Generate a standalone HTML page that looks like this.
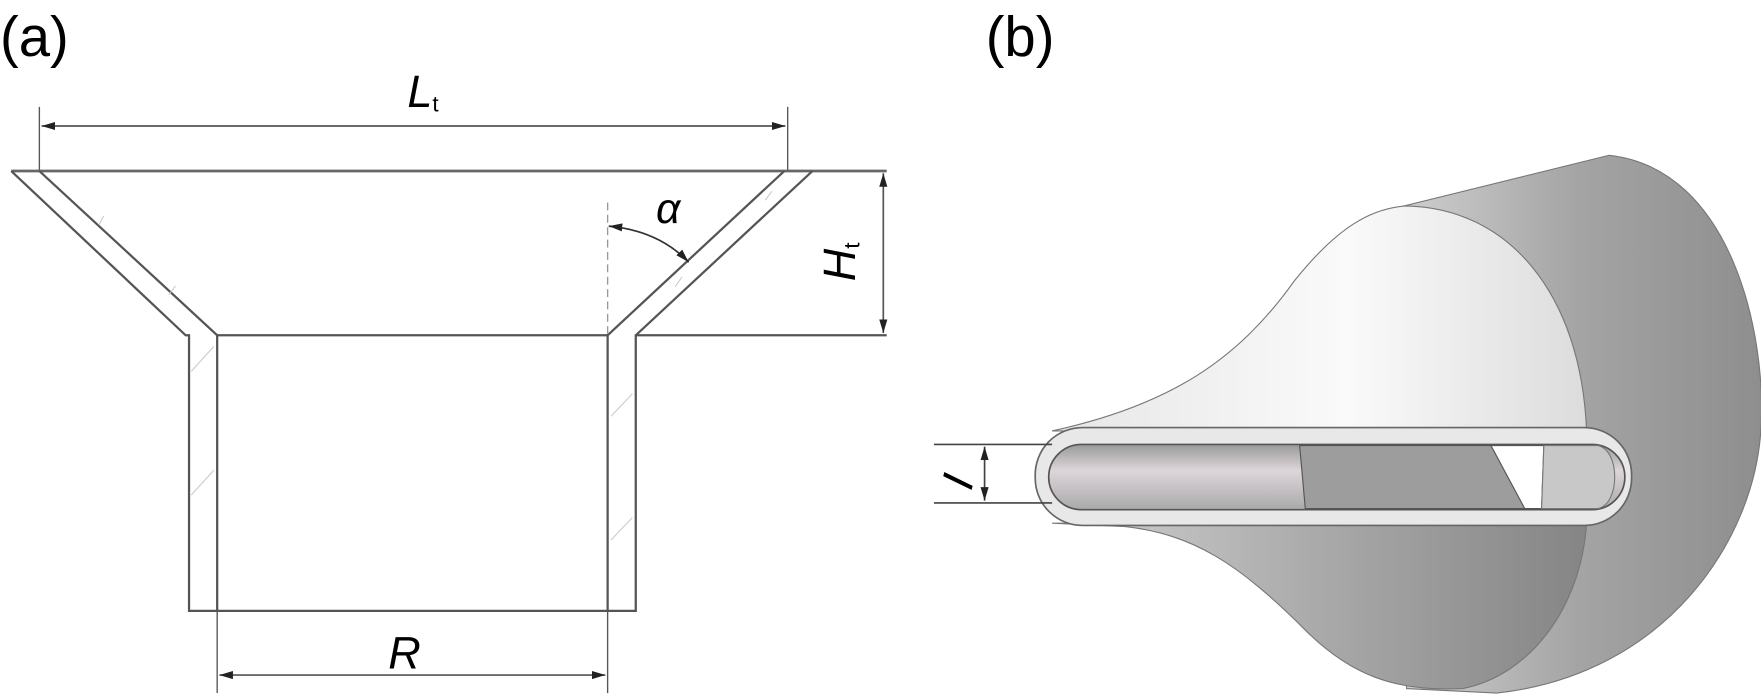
<!DOCTYPE html>
<html><head><style>html,body{margin:0;padding:0;background:#fff;}svg{display:block}</style></head>
<body>
<svg width="1761" height="697" viewBox="0 0 1565 619.5" preserveAspectRatio="none" xmlns="http://www.w3.org/2000/svg" font-family="Liberation Sans, sans-serif">
<defs>
<linearGradient id="cyl" x1="0" y1="0" x2="1" y2="0">
<stop offset="0" stop-color="#d0d0d0"/><stop offset="0.5" stop-color="#a4a4a4"/><stop offset="1" stop-color="#8e8e8e"/></linearGradient>
<linearGradient id="bellT" x1="0" y1="0" x2="1" y2="0">
<stop offset="0" stop-color="#e6e6e6"/><stop offset="0.55" stop-color="#fafafa"/><stop offset="1" stop-color="#dcdcdc"/></linearGradient>
<linearGradient id="bellB" x1="0" y1="0" x2="1" y2="0">
<stop offset="0" stop-color="#d0d0d0"/><stop offset="0.6" stop-color="#a2a2a2"/><stop offset="1" stop-color="#858585"/></linearGradient>
<linearGradient id="slotIn" x1="0" y1="0" x2="0" y2="1">
<stop offset="0" stop-color="#9a9a9a"/><stop offset="0.4" stop-color="#ddd5da"/><stop offset="1" stop-color="#aaaaaa"/></linearGradient>
<marker id="ar" viewBox="0 0 10 10" refX="10" refY="5" markerWidth="8" markerHeight="8" orient="auto-start-reverse"><path d="M0,2 L10,5 L0,8z" fill="#222"/></marker>
</defs>

<text x="0" y="50" font-size="50">(a)</text>
<text x="876" y="50" font-size="50">(b)</text>

<g stroke="#555" stroke-width="2" fill="none">
<line x1="35" y1="95" x2="35" y2="152" stroke-width="1.2"/>
<line x1="700" y1="95" x2="700" y2="152" stroke-width="1.2"/>
<line x1="37" y1="112" x2="698" y2="112" stroke-width="1.5" marker-start="url(#ar)" marker-end="url(#ar)"/>
<line x1="10" y1="152" x2="788" y2="152" stroke="#666" stroke-width="2.5"/>
<polyline points="10,152 165,298 168,298 168,543 565,543 565,298 722,152"/>
<polyline points="35,152 193,298 193,543"/>
<polyline points="697,152 540,298 540,543"/>
<line x1="193" y1="298" x2="540" y2="298"/>
<line x1="565" y1="298" x2="788" y2="298"/>
<line x1="785" y1="154" x2="785" y2="296" stroke-width="1.5" marker-start="url(#ar)" marker-end="url(#ar)"/>
<line x1="540" y1="180" x2="540" y2="298" stroke="#999" stroke-width="1.2" stroke-dasharray="7,4"/>
<path d="M541,201 Q585,205 612,233" stroke="#333" stroke-width="1.5" marker-start="url(#ar)" marker-end="url(#ar)"/>
<line x1="193" y1="543" x2="193" y2="616" stroke-width="1.2"/>
<line x1="540" y1="543" x2="540" y2="616" stroke-width="1.2"/>
<line x1="195" y1="600" x2="538" y2="600" stroke-width="1.5" marker-start="url(#ar)" marker-end="url(#ar)"/>
<g stroke="#ccc" stroke-width="1">
<line x1="88" y1="200" x2="92" y2="192"/><line x1="150" y1="262" x2="156" y2="254"/>
<line x1="170" y1="330" x2="190" y2="308"/><line x1="170" y1="440" x2="190" y2="418"/>
<line x1="543" y1="370" x2="562" y2="350"/><line x1="543" y1="480" x2="562" y2="460"/>
<line x1="600" y1="255" x2="606" y2="246"/><line x1="680" y1="178" x2="686" y2="170"/>
</g>
</g>
<text x="362" y="95" font-size="40" font-style="italic">L<tspan font-size="20" font-style="normal" dy="4">t</tspan></text>
<text x="583" y="198" font-size="38" font-style="italic">α</text>
<text x="345" y="594" font-size="40" font-style="italic">R</text>
<g transform="translate(760,250) rotate(-90)"><text x="0" y="0" font-size="40" font-style="italic">H<tspan font-size="20" font-style="normal" dy="4">t</tspan></text></g>

<path d="M1240,185 L1430,138 C1540,150 1570,300 1565,380 C1560,480 1480,600 1330,616 L1250,612 Z" fill="url(#cyl)" stroke="#777" stroke-width="1"/>
<path d="M935,383 C1040,360 1100,320 1150,250 C1190,200 1220,185 1250,183 C1340,185 1405,260 1410,383 Z" fill="url(#bellT)" stroke="#777" stroke-width="1"/>
<path d="M935,465 L1410,465 C1405,540 1360,600 1300,612 C1240,615 1200,600 1160,560 C1100,500 1060,475 1000,468 Z" fill="url(#bellB)" stroke="#777" stroke-width="1"/>
<rect x="920" y="380" width="530" height="87" rx="42" fill="#e8e8e8" stroke="#666" stroke-width="1.5"/>
<rect x="932" y="395" width="512" height="58" rx="29" fill="url(#slotIn)" stroke="#555" stroke-width="1.5"/>
<path d="M1155,396 L1330,396 L1360,452 L1160,452 Z" fill="#9d9d9d" stroke="#555" stroke-width="1"/>
<path d="M1325,396 L1372,396 L1370,452 L1355,452 Z" fill="#fff" stroke="#555" stroke-width="1"/>
<path d="M1372,396 L1420,396 C1440,400 1440,448 1420,452 L1370,452 Z" fill="#c8c8c8" stroke="#777" stroke-width="1"/>
<g stroke="#444" stroke-width="1.5">
<line x1="830" y1="395" x2="935" y2="395"/>
<line x1="830" y1="447" x2="935" y2="447"/>
<line x1="875" y1="397" x2="875" y2="445" marker-start="url(#ar)" marker-end="url(#ar)"/>
</g>
<g transform="translate(863,437) rotate(-75)"><text x="0" y="0" font-size="40" font-style="italic">I</text></g>
</svg>
</body></html>
